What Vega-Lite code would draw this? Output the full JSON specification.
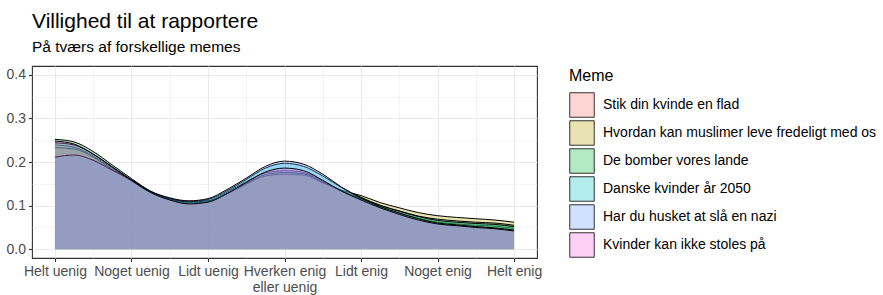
{
  "$schema": "https://vega.github.io/schema/vega-lite/v6.json",
  "width": 505,
  "height": 192,
  "padding": {"left": 6, "top": 10, "right": 5, "bottom": 5},
  "background": "white",
  "title": {
    "text": "Villighed til at rapportere",
    "subtitle": "På tværs af forskellige memes",
    "anchor": "start",
    "frame": "group",
    "font": "Liberation Sans",
    "subtitleFont": "Liberation Sans",
    "fontSize": 21,
    "fontWeight": "normal",
    "subtitleFontSize": 15.5,
    "color": "black",
    "subtitleColor": "black",
    "subtitlePadding": 8,
    "offset": 11
  },
  "data": {"values": [
    {"m": "Stik din kvinde en flad", "x": 1, "y": 0.239},
    {"m": "Stik din kvinde en flad", "x": 1.25, "y": 0.234},
    {"m": "Stik din kvinde en flad", "x": 1.5, "y": 0.214},
    {"m": "Stik din kvinde en flad", "x": 1.75, "y": 0.185},
    {"m": "Stik din kvinde en flad", "x": 2, "y": 0.157},
    {"m": "Stik din kvinde en flad", "x": 2.25, "y": 0.131},
    {"m": "Stik din kvinde en flad", "x": 2.5, "y": 0.115},
    {"m": "Stik din kvinde en flad", "x": 2.75, "y": 0.108},
    {"m": "Stik din kvinde en flad", "x": 3, "y": 0.111},
    {"m": "Stik din kvinde en flad", "x": 3.25, "y": 0.131},
    {"m": "Stik din kvinde en flad", "x": 3.5, "y": 0.155},
    {"m": "Stik din kvinde en flad", "x": 3.75, "y": 0.175},
    {"m": "Stik din kvinde en flad", "x": 4, "y": 0.180},
    {"m": "Stik din kvinde en flad", "x": 4.25, "y": 0.176},
    {"m": "Stik din kvinde en flad", "x": 4.5, "y": 0.156},
    {"m": "Stik din kvinde en flad", "x": 4.75, "y": 0.133},
    {"m": "Stik din kvinde en flad", "x": 5, "y": 0.115},
    {"m": "Stik din kvinde en flad", "x": 5.25, "y": 0.097},
    {"m": "Stik din kvinde en flad", "x": 5.5, "y": 0.083},
    {"m": "Stik din kvinde en flad", "x": 5.75, "y": 0.071},
    {"m": "Stik din kvinde en flad", "x": 6, "y": 0.062},
    {"m": "Stik din kvinde en flad", "x": 6.25, "y": 0.058},
    {"m": "Stik din kvinde en flad", "x": 6.5, "y": 0.055},
    {"m": "Stik din kvinde en flad", "x": 6.75, "y": 0.053},
    {"m": "Stik din kvinde en flad", "x": 7, "y": 0.048},
    {"m": "Hvordan kan muslimer leve fredeligt med os", "x": 1, "y": 0.233},
    {"m": "Hvordan kan muslimer leve fredeligt med os", "x": 1.25, "y": 0.230},
    {"m": "Hvordan kan muslimer leve fredeligt med os", "x": 1.5, "y": 0.211},
    {"m": "Hvordan kan muslimer leve fredeligt med os", "x": 1.75, "y": 0.183},
    {"m": "Hvordan kan muslimer leve fredeligt med os", "x": 2, "y": 0.156},
    {"m": "Hvordan kan muslimer leve fredeligt med os", "x": 2.25, "y": 0.131},
    {"m": "Hvordan kan muslimer leve fredeligt med os", "x": 2.5, "y": 0.116},
    {"m": "Hvordan kan muslimer leve fredeligt med os", "x": 2.75, "y": 0.110},
    {"m": "Hvordan kan muslimer leve fredeligt med os", "x": 3, "y": 0.111},
    {"m": "Hvordan kan muslimer leve fredeligt med os", "x": 3.25, "y": 0.127},
    {"m": "Hvordan kan muslimer leve fredeligt med os", "x": 3.5, "y": 0.149},
    {"m": "Hvordan kan muslimer leve fredeligt med os", "x": 3.75, "y": 0.168},
    {"m": "Hvordan kan muslimer leve fredeligt med os", "x": 4, "y": 0.172},
    {"m": "Hvordan kan muslimer leve fredeligt med os", "x": 4.25, "y": 0.170},
    {"m": "Hvordan kan muslimer leve fredeligt med os", "x": 4.5, "y": 0.152},
    {"m": "Hvordan kan muslimer leve fredeligt med os", "x": 4.75, "y": 0.135},
    {"m": "Hvordan kan muslimer leve fredeligt med os", "x": 5, "y": 0.123},
    {"m": "Hvordan kan muslimer leve fredeligt med os", "x": 5.25, "y": 0.107},
    {"m": "Hvordan kan muslimer leve fredeligt med os", "x": 5.5, "y": 0.095},
    {"m": "Hvordan kan muslimer leve fredeligt med os", "x": 5.75, "y": 0.084},
    {"m": "Hvordan kan muslimer leve fredeligt med os", "x": 6, "y": 0.077},
    {"m": "Hvordan kan muslimer leve fredeligt med os", "x": 6.25, "y": 0.073},
    {"m": "Hvordan kan muslimer leve fredeligt med os", "x": 6.5, "y": 0.070},
    {"m": "Hvordan kan muslimer leve fredeligt med os", "x": 6.75, "y": 0.067},
    {"m": "Hvordan kan muslimer leve fredeligt med os", "x": 7, "y": 0.062},
    {"m": "De bomber vores lande", "x": 1, "y": 0.252},
    {"m": "De bomber vores lande", "x": 1.25, "y": 0.246},
    {"m": "De bomber vores lande", "x": 1.5, "y": 0.224},
    {"m": "De bomber vores lande", "x": 1.75, "y": 0.193},
    {"m": "De bomber vores lande", "x": 2, "y": 0.162},
    {"m": "De bomber vores lande", "x": 2.25, "y": 0.133},
    {"m": "De bomber vores lande", "x": 2.5, "y": 0.115},
    {"m": "De bomber vores lande", "x": 2.75, "y": 0.106},
    {"m": "De bomber vores lande", "x": 3, "y": 0.109},
    {"m": "De bomber vores lande", "x": 3.25, "y": 0.127},
    {"m": "De bomber vores lande", "x": 3.5, "y": 0.151},
    {"m": "De bomber vores lande", "x": 3.75, "y": 0.171},
    {"m": "De bomber vores lande", "x": 4, "y": 0.176},
    {"m": "De bomber vores lande", "x": 4.25, "y": 0.173},
    {"m": "De bomber vores lande", "x": 4.5, "y": 0.154},
    {"m": "De bomber vores lande", "x": 4.75, "y": 0.133},
    {"m": "De bomber vores lande", "x": 5, "y": 0.117},
    {"m": "De bomber vores lande", "x": 5.25, "y": 0.100},
    {"m": "De bomber vores lande", "x": 5.5, "y": 0.088},
    {"m": "De bomber vores lande", "x": 5.75, "y": 0.076},
    {"m": "De bomber vores lande", "x": 6, "y": 0.069},
    {"m": "De bomber vores lande", "x": 6.25, "y": 0.065},
    {"m": "De bomber vores lande", "x": 6.5, "y": 0.062},
    {"m": "De bomber vores lande", "x": 6.75, "y": 0.060},
    {"m": "De bomber vores lande", "x": 7, "y": 0.055},
    {"m": "Danske kvinder år 2050", "x": 1, "y": 0.244},
    {"m": "Danske kvinder år 2050", "x": 1.25, "y": 0.239},
    {"m": "Danske kvinder år 2050", "x": 1.5, "y": 0.218},
    {"m": "Danske kvinder år 2050", "x": 1.75, "y": 0.189},
    {"m": "Danske kvinder år 2050", "x": 2, "y": 0.159},
    {"m": "Danske kvinder år 2050", "x": 2.25, "y": 0.132},
    {"m": "Danske kvinder år 2050", "x": 2.5, "y": 0.116},
    {"m": "Danske kvinder år 2050", "x": 2.75, "y": 0.109},
    {"m": "Danske kvinder år 2050", "x": 3, "y": 0.114},
    {"m": "Danske kvinder år 2050", "x": 3.25, "y": 0.134},
    {"m": "Danske kvinder år 2050", "x": 3.5, "y": 0.160},
    {"m": "Danske kvinder år 2050", "x": 3.75, "y": 0.186},
    {"m": "Danske kvinder år 2050", "x": 4, "y": 0.197},
    {"m": "Danske kvinder år 2050", "x": 4.25, "y": 0.190},
    {"m": "Danske kvinder år 2050", "x": 4.5, "y": 0.168},
    {"m": "Danske kvinder år 2050", "x": 4.75, "y": 0.141},
    {"m": "Danske kvinder år 2050", "x": 5, "y": 0.119},
    {"m": "Danske kvinder år 2050", "x": 5.25, "y": 0.101},
    {"m": "Danske kvinder år 2050", "x": 5.5, "y": 0.087},
    {"m": "Danske kvinder år 2050", "x": 5.75, "y": 0.075},
    {"m": "Danske kvinder år 2050", "x": 6, "y": 0.066},
    {"m": "Danske kvinder år 2050", "x": 6.25, "y": 0.062},
    {"m": "Danske kvinder år 2050", "x": 6.5, "y": 0.059},
    {"m": "Danske kvinder år 2050", "x": 6.75, "y": 0.057},
    {"m": "Danske kvinder år 2050", "x": 7, "y": 0.052},
    {"m": "Har du husket at slå en nazi", "x": 1, "y": 0.211},
    {"m": "Har du husket at slå en nazi", "x": 1.25, "y": 0.216},
    {"m": "Har du husket at slå en nazi", "x": 1.5, "y": 0.204},
    {"m": "Har du husket at slå en nazi", "x": 1.75, "y": 0.181},
    {"m": "Har du husket at slå en nazi", "x": 2, "y": 0.159},
    {"m": "Har du husket at slå en nazi", "x": 2.25, "y": 0.133},
    {"m": "Har du husket at slå en nazi", "x": 2.5, "y": 0.118},
    {"m": "Har du husket at slå en nazi", "x": 2.75, "y": 0.111},
    {"m": "Har du husket at slå en nazi", "x": 3, "y": 0.116},
    {"m": "Har du husket at slå en nazi", "x": 3.25, "y": 0.137},
    {"m": "Har du husket at slå en nazi", "x": 3.5, "y": 0.163},
    {"m": "Har du husket at slå en nazi", "x": 3.75, "y": 0.190},
    {"m": "Har du husket at slå en nazi", "x": 4, "y": 0.202},
    {"m": "Har du husket at slå en nazi", "x": 4.25, "y": 0.195},
    {"m": "Har du husket at slå en nazi", "x": 4.5, "y": 0.172},
    {"m": "Har du husket at slå en nazi", "x": 4.75, "y": 0.142},
    {"m": "Har du husket at slå en nazi", "x": 5, "y": 0.117},
    {"m": "Har du husket at slå en nazi", "x": 5.25, "y": 0.098},
    {"m": "Har du husket at slå en nazi", "x": 5.5, "y": 0.083},
    {"m": "Har du husket at slå en nazi", "x": 5.75, "y": 0.070},
    {"m": "Har du husket at slå en nazi", "x": 6, "y": 0.060},
    {"m": "Har du husket at slå en nazi", "x": 6.25, "y": 0.056},
    {"m": "Har du husket at slå en nazi", "x": 6.5, "y": 0.052},
    {"m": "Har du husket at slå en nazi", "x": 6.75, "y": 0.049},
    {"m": "Har du husket at slå en nazi", "x": 7, "y": 0.044},
    {"m": "Kvinder kan ikke stoles på", "x": 1, "y": 0.248},
    {"m": "Kvinder kan ikke stoles på", "x": 1.25, "y": 0.241},
    {"m": "Kvinder kan ikke stoles på", "x": 1.5, "y": 0.218},
    {"m": "Kvinder kan ikke stoles på", "x": 1.75, "y": 0.188},
    {"m": "Kvinder kan ikke stoles på", "x": 2, "y": 0.158},
    {"m": "Kvinder kan ikke stoles på", "x": 2.25, "y": 0.130},
    {"m": "Kvinder kan ikke stoles på", "x": 2.5, "y": 0.113},
    {"m": "Kvinder kan ikke stoles på", "x": 2.75, "y": 0.104},
    {"m": "Kvinder kan ikke stoles på", "x": 3, "y": 0.108},
    {"m": "Kvinder kan ikke stoles på", "x": 3.25, "y": 0.128},
    {"m": "Kvinder kan ikke stoles på", "x": 3.5, "y": 0.153},
    {"m": "Kvinder kan ikke stoles på", "x": 3.75, "y": 0.177},
    {"m": "Kvinder kan ikke stoles på", "x": 4, "y": 0.186},
    {"m": "Kvinder kan ikke stoles på", "x": 4.25, "y": 0.180},
    {"m": "Kvinder kan ikke stoles på", "x": 4.5, "y": 0.158},
    {"m": "Kvinder kan ikke stoles på", "x": 4.75, "y": 0.133},
    {"m": "Kvinder kan ikke stoles på", "x": 5, "y": 0.113},
    {"m": "Kvinder kan ikke stoles på", "x": 5.25, "y": 0.095},
    {"m": "Kvinder kan ikke stoles på", "x": 5.5, "y": 0.080},
    {"m": "Kvinder kan ikke stoles på", "x": 5.75, "y": 0.067},
    {"m": "Kvinder kan ikke stoles på", "x": 6, "y": 0.058},
    {"m": "Kvinder kan ikke stoles på", "x": 6.25, "y": 0.054},
    {"m": "Kvinder kan ikke stoles på", "x": 6.5, "y": 0.050},
    {"m": "Kvinder kan ikke stoles på", "x": 6.75, "y": 0.047},
    {"m": "Kvinder kan ikke stoles på", "x": 7, "y": 0.042}
  ]},
  "encoding": {
    "x": {
      "field": "x", "type": "quantitative",
      "scale": {"domain": [0.7, 7.3], "nice": false, "zero": false},
      "axis": {
        "title": null,
        "values": [1, 1.5, 2, 2.5, 3, 3.5, 4, 4.5, 5, 5.5, 6, 6.5, 7],
        "labelExpr": "datum.value % 1 === 0 ? ['', 'Helt uenig', 'Noget uenig', 'Lidt uenig', ['Hverken enig', 'eller uenig'], 'Lidt enig', 'Noget enig', 'Helt enig'][datum.value] : ''",
        "labelOverlap": false,
        "labelFlush": false,
        "labelBound": false,
        "gridWidth": {"condition": {"test": "datum.value % 1 === 0", "value": 1.1}, "value": 0.55},
        "tickOpacity": {"condition": {"test": "datum.value % 1 === 0", "value": 1}, "value": 0}
      }
    },
    "y": {
      "field": "y", "type": "quantitative",
      "scale": {"domain": [-0.02, 0.42], "nice": false, "zero": false},
      "axis": {
        "title": null,
        "values": [0, 0.05, 0.1, 0.15, 0.2, 0.25, 0.3, 0.35, 0.4],
        "labelExpr": "round(datum.value * 100) % 10 === 0 ? format(datum.value, '.1f') : ''",
        "labelOverlap": false,
        "gridWidth": {"condition": {"test": "round(datum.value * 100) % 10 === 0", "value": 1.1}, "value": 0.55},
        "tickOpacity": {"condition": {"test": "round(datum.value * 100) % 10 === 0", "value": 1}, "value": 0}
      }
    }
  },
  "layer": [
    {"transform": [{"filter": "datum.m === 'Stik din kvinde en flad'"}], "mark": {"type": "area", "interpolate": "monotone", "fillOpacity": 0.3}, "encoding": {"fill": {"field": "m", "type": "nominal", "title": "Meme", "scale": {"domain": ["Stik din kvinde en flad", "Hvordan kan muslimer leve fredeligt med os", "De bomber vores lande", "Danske kvinder år 2050", "Har du husket at slå en nazi", "Kvinder kan ikke stoles på"], "range": ["#F8766D", "#B79F00", "#00BA38", "#00BFC4", "#619CFF", "#F564E3"]}, "legend": {"encode": {"symbols": {"update": {"fillOpacity": {"value": 0.3}, "strokeOpacity": {"value": 1}}}}}}}},
    {"transform": [{"filter": "datum.m === 'Stik din kvinde en flad'"}], "mark": {"type": "line", "interpolate": "monotone", "color": "black", "strokeWidth": 1}, "encoding": {}},
    {"transform": [{"filter": "datum.m === 'Hvordan kan muslimer leve fredeligt med os'"}], "mark": {"type": "area", "interpolate": "monotone", "fillOpacity": 0.3}, "encoding": {"fill": {"field": "m", "type": "nominal", "title": "Meme"}}},
    {"transform": [{"filter": "datum.m === 'Hvordan kan muslimer leve fredeligt med os'"}], "mark": {"type": "line", "interpolate": "monotone", "color": "black", "strokeWidth": 1}, "encoding": {}},
    {"transform": [{"filter": "datum.m === 'De bomber vores lande'"}], "mark": {"type": "area", "interpolate": "monotone", "fillOpacity": 0.3}, "encoding": {"fill": {"field": "m", "type": "nominal", "title": "Meme"}}},
    {"transform": [{"filter": "datum.m === 'De bomber vores lande'"}], "mark": {"type": "line", "interpolate": "monotone", "color": "black", "strokeWidth": 1}, "encoding": {}},
    {"transform": [{"filter": "datum.m === 'Danske kvinder år 2050'"}], "mark": {"type": "area", "interpolate": "monotone", "fillOpacity": 0.3}, "encoding": {"fill": {"field": "m", "type": "nominal", "title": "Meme"}}},
    {"transform": [{"filter": "datum.m === 'Danske kvinder år 2050'"}], "mark": {"type": "line", "interpolate": "monotone", "color": "black", "strokeWidth": 1}, "encoding": {}},
    {"transform": [{"filter": "datum.m === 'Har du husket at slå en nazi'"}], "mark": {"type": "area", "interpolate": "monotone", "fillOpacity": 0.3}, "encoding": {"fill": {"field": "m", "type": "nominal", "title": "Meme"}}},
    {"transform": [{"filter": "datum.m === 'Har du husket at slå en nazi'"}], "mark": {"type": "line", "interpolate": "monotone", "color": "black", "strokeWidth": 1}, "encoding": {}},
    {"transform": [{"filter": "datum.m === 'Kvinder kan ikke stoles på'"}], "mark": {"type": "area", "interpolate": "monotone", "fillOpacity": 0.3}, "encoding": {"fill": {"field": "m", "type": "nominal", "title": "Meme"}}},
    {"transform": [{"filter": "datum.m === 'Kvinder kan ikke stoles på'"}], "mark": {"type": "line", "interpolate": "monotone", "color": "black", "strokeWidth": 1}, "encoding": {}}
  ],
  "resolve": {"scale": {"fill": "shared"}},
  "config": {
    "font": "Liberation Sans",
    "view": {"stroke": "#333333", "strokeWidth": 1.1},
    "axis": {
      "domain": false,
      "gridColor": "#EBEBEB",
      "tickColor": "#333333",
      "tickSize": 3.5,
      "tickWidth": 1.1,
      "labelFont": "Liberation Sans",
      "labelFontSize": 14,
      "labelColor": "#4D4D4D",
      "labelPadding": 3
    },
    "legend": {
      "offset": 30,
      "padding": 2,
      "titleFont": "Liberation Sans",
      "titleFontSize": 16,
      "titleFontWeight": "normal",
      "titleColor": "black",
      "titlePadding": 8,
      "labelFont": "Liberation Sans",
      "labelFontSize": 14,
      "labelColor": "black",
      "labelOffset": 8,
      "symbolType": "square",
      "symbolSize": 600,
      "symbolStrokeColor": "black",
      "symbolStrokeWidth": 0.8,
      "rowPadding": 0,
      "labelLimit": 400
    }
  }
}
